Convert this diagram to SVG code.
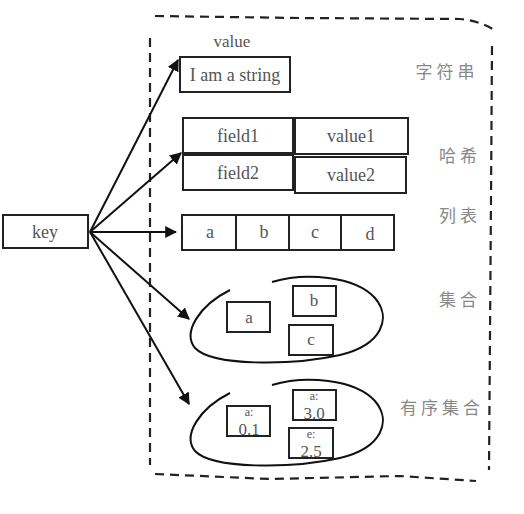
<svg xmlns="http://www.w3.org/2000/svg" width="524" height="514" viewBox="0 0 524 514">
<defs>
<style>
.b{fill:#fff;stroke:#222;stroke-width:2}
.t{font-family:"Liberation Serif",serif;fill:#555;text-anchor:middle}
.cn{font-family:"Noto Sans CJK SC",sans-serif;fill:#888;font-size:17px;letter-spacing:4px;text-anchor:middle}
.c{fill:none;stroke:#111;stroke-width:2}
.d{fill:none;stroke:#222;stroke-width:2.2;stroke-dasharray:9 6}
.e{fill:none;stroke:#111;stroke-width:2}
</style>
<marker id="ah" viewBox="0 0 10 10" refX="9" refY="5" markerWidth="6" markerHeight="6" orient="auto">
<path d="M0,0 L10,5 L0,10 z" fill="#111"/>
</marker>
</defs>
<rect width="524" height="514" fill="#fff"/>
<g id="frame">
<path class="d" d="M155,16 L300,18 L460,19 Q478,20 496,31"/>
<path class="d" d="M150,38 L150,465"/>
<path class="d" d="M492,46 L491,200 L489,470"/>
<path class="d" d="M155,474 L270,479 L400,476 L476,481"/>
</g>
<g id="key">
<rect class="b" x="3" y="215" width="85" height="33"/>
<text class="t" x="45" y="238" font-size="18">key</text>
</g>
<g id="string">
<text class="t" x="232" y="47" font-size="17">value</text>
<rect class="b" x="180" y="57" width="110" height="35"/>
<text class="t" x="235" y="81" font-size="18">I am a string</text>
<text class="cn" x="447" y="78">字符串</text>
</g>
<g id="hash">
<rect class="b" x="183" y="118" width="110" height="35"/>
<text class="t" x="238" y="142" font-size="18">field1</text>
<rect class="b" x="295" y="118" width="113" height="36"/>
<text class="t" x="351" y="142" font-size="18">value1</text>
<rect class="b" x="183" y="155" width="110" height="35"/>
<text class="t" x="238" y="179" font-size="18">field2</text>
<rect class="b" x="295" y="157" width="111" height="36"/>
<text class="t" x="351" y="181" font-size="18">value2</text>
<text class="cn" x="460" y="162">哈希</text>
</g>
<g id="list">
<rect class="b" x="182" y="215" width="54" height="35"/>
<text class="t" x="210" y="238" font-size="18">a</text>
<rect class="b" x="236" y="215" width="53" height="35"/>
<text class="t" x="264" y="238" font-size="18">b</text>
<rect class="b" x="289" y="215" width="52" height="35"/>
<text class="t" x="315" y="238" font-size="18">c</text>
<rect class="b" x="341" y="215" width="53" height="35"/>
<text class="t" x="370" y="240" font-size="18">d</text>
<text class="cn" x="460" y="222">列表</text>
</g>
<g id="set">
<path class="e" d="M230,290 C200,305 182,332 195,348 C212,366 290,366 340,355 C382,345 392,318 375,298 C355,276 305,272 272,282"/>
<rect class="b" x="227" y="302" width="43" height="30"/>
<text class="t" x="249" y="323" font-size="17">a</text>
<rect class="b" x="293" y="286" width="43" height="30"/>
<text class="t" x="314" y="306" font-size="17">b</text>
<rect class="b" x="289" y="325" width="44" height="30"/>
<text class="t" x="311" y="345" font-size="17">c</text>
<text class="cn" x="460" y="306">集合</text>
</g>
<g id="zset">
<path class="e" d="M230,393 C200,408 182,435 195,451 C212,469 290,469 340,458 C382,448 392,421 375,401 C355,379 305,375 272,385"/>
<rect class="b" x="227" y="406" width="43" height="30"/>
<text class="t" x="249" y="416" font-size="12">a:</text>
<text class="t" x="249" y="435" font-size="17">0.1</text>
<rect class="b" x="293" y="390" width="43" height="30"/>
<text class="t" x="314" y="400" font-size="12">a:</text>
<text class="t" x="314" y="419" font-size="17">3.0</text>
<rect class="b" x="289" y="428" width="44" height="30"/>
<text class="t" x="311" y="438" font-size="12">e:</text>
<text class="t" x="311" y="457" font-size="17">2.5</text>
<text class="cn" x="442" y="414">有序集合</text>
</g>
<g id="connectors">
<line class="c" x1="90" y1="232" x2="178" y2="60" marker-end="url(#ah)"/>
<line class="c" x1="90" y1="232" x2="181" y2="153" marker-end="url(#ah)"/>
<line class="c" x1="90" y1="232" x2="176" y2="232" marker-end="url(#ah)"/>
<line class="c" x1="90" y1="232" x2="189" y2="319" marker-end="url(#ah)"/>
<line class="c" x1="90" y1="232" x2="189" y2="404" marker-end="url(#ah)"/>
</g>
</svg>
